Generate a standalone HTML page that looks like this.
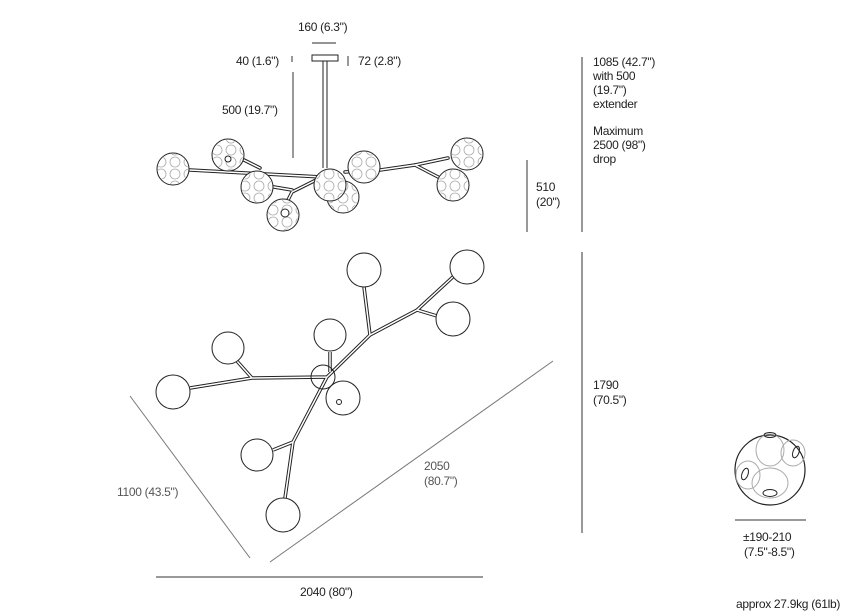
<!DOCTYPE html>
<html><head><meta charset="utf-8"><style>
html,body{margin:0;padding:0;background:#fff;}
svg{display:block;}
text{font-family:"Liberation Sans",sans-serif;font-size:12px;fill:#222;letter-spacing:-0.3px;}
</style></head><body>
<svg width="849" height="616" viewBox="0 0 849 616" xmlns="http://www.w3.org/2000/svg">
<defs>
<pattern id="bub" width="14" height="12" patternUnits="userSpaceOnUse">
<circle cx="7" cy="6" r="5" fill="none" stroke="#aaa" stroke-width="0.8"/>
</pattern>
</defs>
<!-- top dims -->
<line x1="312" y1="43" x2="336" y2="43" stroke="#555" stroke-width="1.3"/>
<text x="298" y="31">160 (6.3")</text>
<text x="236" y="65">40 (1.6")</text>
<line x1="292" y1="56" x2="292" y2="62" stroke="#333"/>
<line x1="348" y1="56" x2="348" y2="66" stroke="#333"/>
<text x="358" y="65">72 (2.8")</text>
<line x1="293" y1="72" x2="293" y2="158" stroke="#333"/>
<text x="222" y="114">500 (19.7")</text>
<rect x="312" y="55" width="26" height="6" fill="#fff" stroke="#222"/>
<line x1="323" y1="61" x2="323" y2="168" stroke="#222"/>
<line x1="327" y1="61" x2="327" y2="168" stroke="#222"/>
<!-- top arms -->
<g stroke="#222" stroke-width="3.5" fill="none" stroke-linecap="round"><path d="M190 170 L322 177 M322 177 L292 192 L283 210 M262 185 L292 190 M345 172 L380 170 L415 165 L448 158 M415 165 L440 178 M244 160 L260 168"/></g>
<g stroke="#fff" stroke-width="1.5" fill="none" stroke-linecap="round"><path d="M190 170 L322 177 M322 177 L292 192 L283 210 M262 185 L292 190 M345 172 L380 170 L415 165 L448 158 M415 165 L440 178 M244 160 L260 168"/></g>
<g stroke="#222" stroke-width="1" fill="#fff">
<circle cx="173" cy="169" r="16"/><circle cx="173" cy="169" r="15" fill="url(#bub)" stroke="none"/>
<circle cx="228" cy="155" r="16"/><circle cx="228" cy="155" r="15" fill="url(#bub)" stroke="none"/><circle cx="228" cy="159" r="3"/>
<circle cx="257" cy="187" r="16"/><circle cx="257" cy="187" r="15" fill="url(#bub)" stroke="none"/>
<circle cx="283" cy="215" r="16"/><circle cx="283" cy="215" r="15" fill="url(#bub)" stroke="none"/><circle cx="285" cy="213" r="4"/>
<circle cx="343" cy="197" r="16"/><circle cx="343" cy="197" r="15" fill="url(#bub)" stroke="none"/>
<circle cx="330" cy="185" r="16"/><circle cx="330" cy="185" r="15" fill="url(#bub)" stroke="none"/>
<circle cx="364" cy="167" r="16"/><circle cx="364" cy="167" r="15" fill="url(#bub)" stroke="none"/>
<circle cx="467" cy="154" r="16"/><circle cx="467" cy="154" r="15" fill="url(#bub)" stroke="none"/>
<circle cx="453" cy="185" r="16"/><circle cx="453" cy="185" r="15" fill="url(#bub)" stroke="none"/>
</g>
<!-- right dims -->
<line x1="582" y1="57" x2="582" y2="232" stroke="#333"/>
<line x1="582" y1="252" x2="582" y2="533" stroke="#333"/>
<line x1="527" y1="160" x2="527" y2="232" stroke="#333"/>
<text x="536" y="191">510</text><text x="536" y="206">(20")</text>
<text x="593" y="66">1085 (42.7")</text><text x="593" y="80">with 500</text><text x="593" y="94">(19.7")</text><text x="593" y="108">extender</text>
<text x="593" y="135">Maximum</text><text x="593" y="149">2500 (98")</text><text x="593" y="163">drop</text>
<text x="593" y="389">1790</text><text x="593" y="404">(70.5")</text>
<!-- diagonals -->
<line x1="130" y1="396" x2="250" y2="558" stroke="#777"/>
<line x1="270" y1="562" x2="553" y2="361" stroke="#777"/>
<line x1="156" y1="577" x2="483" y2="577" stroke="#333"/>
<text x="300" y="596">2040 (80")</text>
<text x="117" y="496" style="fill:#555">1100 (43.5")</text>
<text x="424" y="470" style="fill:#555">2050</text><text x="424" y="485" style="fill:#555">(80.7")</text>
<!-- plan arms -->
<g stroke="#222" stroke-width="3.5" fill="none"><path d="M190 388 L252 378 L327 377 M252 378 L236 360 M327 377 L370 335 L417 310 L455 275 M370 335 L364 287 M417 310 L437 316 M327 377 L293 442 L285 498 M293 442 L273 450 M330 352 L330 372"/></g>
<g stroke="#fff" stroke-width="1.5" fill="none"><path d="M190 388 L252 378 L327 377 M252 378 L236 360 M327 377 L370 335 L417 310 L455 275 M370 335 L364 287 M417 310 L437 316 M327 377 L293 442 L285 498 M293 442 L273 450 M330 352 L330 372"/></g>
<g stroke="#222" stroke-width="1" fill="#fff">
<circle cx="323" cy="377" r="12" fill="none"/>
<circle cx="364" cy="270" r="17"/><circle cx="467" cy="267" r="17"/><circle cx="453" cy="319" r="17"/>
<circle cx="330" cy="335" r="16"/><circle cx="228" cy="348" r="16"/><circle cx="173" cy="392" r="17"/>
<circle cx="343" cy="398" r="17"/><circle cx="339" cy="402" r="2.5"/>
<circle cx="257" cy="455" r="16"/><circle cx="283" cy="515" r="17"/>
</g>
<!-- globe -->
<g fill="none">
<circle cx="770" cy="470" r="35" stroke="#222" stroke-width="1.2"/>
<g stroke="#aaa"><ellipse cx="770" cy="450" rx="14" ry="16"/><ellipse cx="793" cy="453" rx="12" ry="13"/><ellipse cx="770" cy="483" rx="18" ry="15"/><ellipse cx="748" cy="475" rx="12" ry="14"/></g>
<g stroke="#222"><ellipse cx="770" cy="435" rx="6" ry="2.5"/><ellipse cx="796" cy="452" rx="3" ry="6" transform="rotate(20 796 452)"/><ellipse cx="745" cy="474" rx="3" ry="6" transform="rotate(20 745 474)"/><ellipse cx="770" cy="493" rx="7" ry="3.5"/></g>
</g>
<line x1="735" y1="520" x2="806" y2="520" stroke="#333"/>
<text x="743" y="541">±190-210</text><text x="744" y="556">(7.5"-8.5")</text>
<text x="736" y="608">approx 27.9kg (61lb)</text>
</svg>
</body></html>
